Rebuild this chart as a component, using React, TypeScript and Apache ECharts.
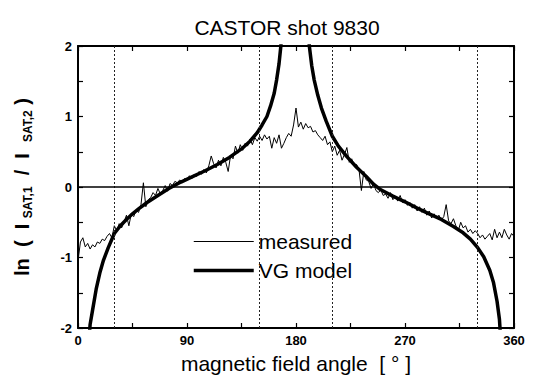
import React, { useEffect, useRef } from "react";
import * as echarts from "echarts";

// Measured log ratio of the two saturation currents, sampled every 2 degrees
const measuredAngles = [
  0, 2, 4, 6, 8, 10, 12, 14, 16, 18, 20, 22, 24, 26, 28, 30, 32, 34, 36, 38,
  40, 42, 44, 46, 48, 50, 52, 54, 56, 58, 60, 62, 64, 66, 68, 70, 72, 74, 76, 78,
  80, 82, 84, 86, 88, 90, 92, 94, 96, 98, 100, 102, 104, 106, 108, 110, 112, 114, 116, 118,
  120, 122, 124, 126, 128, 130, 132, 134, 136, 138, 140, 142, 144, 146, 148, 150, 152, 154, 156, 158,
  160, 162, 164, 166, 168, 170, 172, 174, 176, 178, 180, 182, 184, 186, 188, 190, 192, 194, 196, 198,
  200, 202, 204, 206, 208, 210, 212, 214, 216, 218, 220, 222, 224, 226, 228, 230, 232, 234, 236, 238,
  240, 242, 244, 246, 248, 250, 252, 254, 256, 258, 260, 262, 264, 266, 268, 270, 272, 274, 276, 278,
  280, 282, 284, 286, 288, 290, 292, 294, 296, 298, 300, 302, 304, 306, 308, 310, 312, 314, 316, 318,
  320, 322, 324, 326, 328, 330, 332, 334, 336, 338, 340, 342, 344, 346, 348, 350, 352, 354, 356, 358,
  360,
];
const measuredValues = [
  -1.05, -0.78, -0.72, -0.85, -0.8, -0.88, -0.82, -0.85, -0.78, -0.8, -0.74, -0.76, -0.7, -0.66, -0.72, -0.55, -0.62, -0.52, -0.58, -0.5,
  -0.4, -0.55, -0.38, -0.42, -0.33, -0.36, -0.25, 0.06, -0.28, -0.18, -0.15, -0.08, -0.12, -0.02, -0.1, -0.05, 0.02, -0.06, 0.05, 0.02,
  0.08, 0.06, 0.1, 0.07, 0.12, 0.1, 0.16, 0.12, 0.18, 0.15, 0.22, 0.18, 0.25, 0.2, 0.3, 0.44, 0.33, 0.27, 0.38, 0.3,
  0.42, 0.35, 0.22, 0.45, 0.4, 0.58, 0.48, 0.6, 0.52, 0.62, 0.58, 0.68, 0.6, 0.7, 0.65, 0.72, 0.66, 0.74, 0.68, 0.72,
  0.55, 0.7, 0.62, 0.74, 0.55, 0.62, 0.7, 0.76, 0.72, 0.88, 1.12, 0.85, 0.92, 0.82, 0.9, 0.84, 0.86, 0.78, 0.8, 0.74,
  0.7, 0.66, 0.72, 0.6, 0.64, 0.5, 0.58, 0.45, 0.52, 0.38, 0.46, 0.56, 0.35, 0.4, 0.3, 0.32, 0.25, -0.05, 0.22, 0.1,
  0.08, -0.02, 0.05, -0.05, -0.08, -0.04, -0.12, -0.1, -0.16, -0.08, -0.18, -0.14, -0.2, -0.12, -0.22, -0.18, -0.26, -0.22, -0.3, -0.25,
  -0.34, -0.28, -0.36, -0.3, -0.4, -0.34, -0.44, -0.38, -0.44, -0.4, -0.47, -0.42, -0.25, -0.48, -0.52, -0.45, -0.55, -0.62, -0.5, -0.58,
  -0.55, -0.64, -0.6, -0.66, -0.62, -0.66, -0.72, -0.68, -0.74, -0.7, -0.66, -0.75, -0.6, -0.72, -0.64, -0.72, -0.6, -0.68, -0.74, -0.66,
  -0.7,
];

// VG model curve; the '-' entry breaks the line at the pole near 180 degrees
const modelAngles = [
  8.5, 10, 12, 15, 18, 21, 25, 30, 35, 40, 45, 50, 57, 65, 75, 85, 95, 105, 115, 125,
  135, 142, 148, 152, 156, 159, 162, 164, 166, 167.5, 169,
  180,
  189.5, 191, 193, 195, 198, 201, 205, 210, 215, 222, 230, 238, 244, 250, 260, 270, 280, 290, 300, 310,
  318, 324, 330, 335, 340, 343, 346, 348, 349.5,
];
const modelValues: (number | string)[] = [
  -2.3, -1.95, -1.75, -1.45, -1.22, -1.04, -0.86, -0.66, -0.55, -0.46, -0.38, -0.31, -0.22, -0.13, -0.02, 0.07, 0.15, 0.23, 0.32, 0.42,
  0.54, 0.65, 0.77, 0.88, 1.0, 1.15, 1.33, 1.52, 1.75, 2.0, 2.4,
  "-",
  2.4, 2.0, 1.72, 1.52, 1.3, 1.12, 0.93, 0.72, 0.58, 0.43, 0.28, 0.15, 0.04, -0.04, -0.13, -0.21, -0.3, -0.38, -0.46, -0.56,
  -0.65, -0.74, -0.86, -0.99, -1.18, -1.35, -1.62, -1.88, -2.3,
];

// Probe pin orientations marked by dotted guides
const guideAngles = [30, 150, 210, 330];

const xTickLabels = ["0", "90", "180", "270", "360"];
const yTickLabels = ["-2", "-1", "0", "1", "2"];

const FONT = "Liberation Sans, Arial, Helvetica, sans-serif";

export default function App() {
  const ref = useRef<HTMLDivElement>(null);

  useEffect(() => {
    if (!ref.current) return;
    const chart = echarts.init(ref.current, undefined, { renderer: "svg" });

    const measured = measuredAngles.map((a, i) => [a, measuredValues[i]]);
    const model = modelAngles.map((a, i) => [a, modelValues[i]]);

    const frame = { show: true, onZero: false, lineStyle: { color: "#000", width: 2 } };
    const tick = { show: true, inside: true, length: 5, lineStyle: { color: "#000", width: 1.2 } };
    // legend keeps only the line sample, no marker
    const noMarker = { color: "rgba(0,0,0,0)", borderWidth: 0, opacity: 0 };

    chart.setOption({
      animation: false,
      backgroundColor: "#fff",
      title: {
        text: "CASTOR shot 9830",
        left: 282,
        top: 12,
        textAlign: "center",
        textStyle: { fontFamily: FONT, fontSize: 21, fontWeight: "normal", color: "#000" },
      },
      grid: { left: 78, right: 19, top: 46, bottom: 51, containLabel: false },
      legend: {
        orient: "vertical",
        left: 184,
        top: 217,
        padding: [14, 12, 10, 8],
        itemGap: 8,
        itemWidth: 60,
        itemHeight: 22,
        backgroundColor: "#fff",
        textStyle: { fontFamily: FONT, fontSize: 21, color: "#000" },
        itemStyle: noMarker,
        data: [
          { name: "measured", itemStyle: noMarker, lineStyle: { color: "#000", width: 1 } },
          { name: "VG model", itemStyle: noMarker, lineStyle: { color: "#000", width: 3.5 } },
        ],
      },
      xAxis: [
        {
          type: "value",
          min: 0,
          max: 360,
          interval: 45,
          axisLine: frame,
          axisTick: tick,
          splitLine: { show: false },
          axisLabel: {
            margin: 6,
            fontFamily: FONT,
            fontSize: 13,
            fontWeight: "bold",
            color: "#000",
            formatter: (v: number) => (xTickLabels.includes(String(v)) ? String(v) : ""),
          },
          name: "magnetic field angle  [ ° ]",
          nameLocation: "middle",
          nameGap: 25,
          nameTextStyle: { fontFamily: FONT, fontSize: 21, color: "#000" },
        },
        {
          type: "value",
          position: "top",
          min: 0,
          max: 360,
          interval: 45,
          axisLine: frame,
          axisTick: tick,
          splitLine: { show: false },
          axisLabel: { show: false },
        },
      ],
      yAxis: [
        {
          type: "value",
          min: -2,
          max: 2,
          interval: 0.5,
          axisLine: frame,
          axisTick: tick,
          splitLine: { show: false },
          axisLabel: {
            margin: 6,
            fontFamily: FONT,
            fontSize: 13,
            fontWeight: "bold",
            color: "#000",
            formatter: (v: number) => (yTickLabels.includes(String(v)) ? String(v) : ""),
          },
          name: "{a|ln  (  I }{s|SAT,1}{a|  /  I  }{s|SAT,2}{a| )}",
          nameLocation: "middle",
          nameRotate: 90,
          nameGap: 44,
          nameTextStyle: {
            fontFamily: FONT,
            color: "#000",
            rich: {
              a: { fontFamily: FONT, fontSize: 20, fontWeight: "bold", color: "#000", lineHeight: 24 },
              s: {
                fontFamily: FONT,
                fontSize: 12,
                fontWeight: "bold",
                color: "#000",
                lineHeight: 12,
                verticalAlign: "bottom",
              },
            },
          },
        },
        {
          type: "value",
          position: "right",
          min: -2,
          max: 2,
          interval: 0.5,
          axisLine: frame,
          axisTick: tick,
          splitLine: { show: false },
          axisLabel: { show: false },
        },
      ],
      series: [
        {
          name: "measured",
          type: "line",
          data: measured,
          showSymbol: false,
          symbol: "none",
          clip: true,
          lineStyle: { color: "#000", width: 1 },
          itemStyle: { color: "#000" },
          z: 2,
          markLine: {
            silent: true,
            symbol: ["none", "none"],
            label: { show: false },
            animation: false,
            data: [
              ...guideAngles.map((a) => ({
                xAxis: a,
                lineStyle: { color: "#222", width: 1, type: [2, 2] },
              })),
              { yAxis: 0, lineStyle: { color: "#000", width: 1.6, type: "solid" } },
            ],
          },
        },
        {
          name: "VG model",
          type: "line",
          data: model,
          showSymbol: false,
          symbol: "none",
          clip: true,
          connectNulls: false,
          lineStyle: { color: "#000", width: 3.5 },
          itemStyle: { color: "#000" },
          z: 3,
        },
      ],
    });

    return () => chart.dispose();
  }, []);

  return (
    <div
      ref={ref}
      style={{ position: "fixed", left: 0, top: 0, width: 533, height: 379, background: "#fff" }}
    />
  );
}
